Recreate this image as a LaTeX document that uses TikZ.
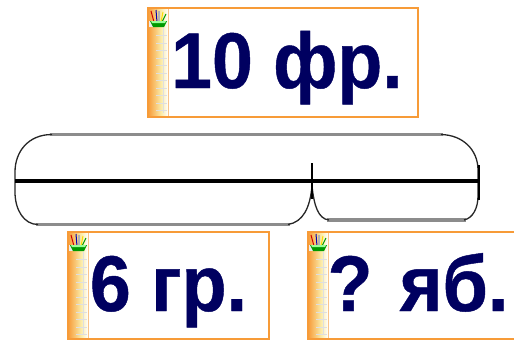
\documentclass[tikz,border=0pt]{standalone}
\usepackage{fontspec}
\newfontfamily\lbfont{Liberation Sans Bold}[FakeBold=0.6]
\definecolor{cardorange}{HTML}{F79B38}
\definecolor{stripyellow}{HTML}{FBEBA8}
\definecolor{navy}{HTML}{000060}
\definecolor{bargray}{HTML}{8C8C8C}
\tikzset{
  cardbox/.style={draw=cardorange, line width=1.6pt, fill=white, inner sep=0pt, rectangle,
    path picture={
      \coordinate (pSW) at (path picture bounding box.south west);
      \coordinate (pNW) at (path picture bounding box.north west);
      \shade[left color=cardorange, right color=stripyellow] (pSW) rectangle ([xshift=13pt]pNW);
      \shade[left color=stripyellow, right color=white] ([xshift=13pt]pSW) rectangle ([xshift=20pt]pNW);
      \draw[cardorange!60, line width=0.8pt] ([xshift=20pt]pSW) -- ([xshift=20pt]pNW);
      \draw[white!75!gray, line width=0.5pt] ([xshift=15pt,yshift=-20pt]pNW) -- ([xshift=15pt,yshift=4pt]pSW);
      \foreach \k in {1,...,14}{
        \draw[white!75!gray, line width=0.4pt] ([xshift=8pt,yshift=-20pt-7.5*\k pt]pNW) -- ([xshift=19pt,yshift=-20pt-7.5*\k pt]pNW);
      }
      \fill[white!85!gray] ([xshift=2pt,yshift=-16pt]pNW) ellipse [x radius=8pt, y radius=3pt];
      \draw[red!80!black, line width=1pt] ([xshift=6pt,yshift=-14pt]pNW) -- ([xshift=3pt,yshift=-3pt]pNW);
      \draw[blue!70!black, line width=1pt] ([xshift=9pt,yshift=-14pt]pNW) -- ([xshift=8pt,yshift=-2pt]pNW);
      \draw[gray!60, line width=1.6pt] ([xshift=11pt,yshift=-14pt]pNW) -- ([xshift=11pt,yshift=-3pt]pNW);
      \draw[yellow!80!orange, line width=1pt] ([xshift=13pt,yshift=-14pt]pNW) -- ([xshift=15pt,yshift=-4pt]pNW);
      \draw[green!60!black, line width=1pt] ([xshift=14pt,yshift=-14pt]pNW) -- ([xshift=18pt,yshift=-6pt]pNW);
      \fill[green!60!black] ([xshift=2pt,yshift=-13pt]pNW) -- ([xshift=19pt,yshift=-13pt]pNW)
        -- ([xshift=16pt,yshift=-19pt]pNW) -- ([xshift=5pt,yshift=-19pt]pNW) -- cycle;
      \fill[green!40!white] ([xshift=3pt,yshift=-13pt]pNW) -- ([xshift=18pt,yshift=-13pt]pNW)
        -- ([xshift=17pt,yshift=-15pt]pNW) -- ([xshift=4pt,yshift=-15pt]pNW) -- cycle;
    }},
  lbl/.style={font=\lbfont\fontsize{79}{83}\selectfont, text=navy, inner sep=0pt, xscale=0.93, anchor=base},
  barouter/.style={draw=black!85, line width=1.3pt},
  barflat/.style={draw=bargray, line width=3.4pt},
  barmain/.style={draw=black, line width=3.6pt},
}
\begin{document}
\begin{tikzpicture}[x=1pt,y=-1pt]
\clip (0,0) rectangle (514,340);
\fill[white] (0,0) rectangle (514,340);

% cards
\node[cardbox, minimum width=270pt, minimum height=109pt] (ctop) at (283,62.5) {};
\node[cardbox, minimum width=201pt, minimum height=107pt] (cleft) at (168.5,285.5) {};
\node[cardbox, minimum width=208pt, minimum height=107pt] (cright) at (412,285.5) {};

\node[lbl] (ttop) at (287,88) {10 фр.};
\node[lbl] (tleft) at (168.5,311) {6 гр.};
\node[lbl] (tright) at (418,311) {? яб.};

% segment bar
\draw[barflat] (50,134.5) -- (443,134.5);
\draw[barflat] (36,224.5) -- (290,224.5);
\draw[barflat] (327,220) -- (466,220);
\draw[barouter] (52,134.5) .. controls (28,134.5) and (15,152) .. (15,172) -- (15,192)
  .. controls (15,210) and (24,224.5) .. (38,224.5);
\draw[barouter] (288,224.5) .. controls (303,222) and (310,208) .. (312,186);
\draw[barouter] (312,186) .. controls (314,205) and (318,219) .. (329,220);
\draw[barouter] (441,134.5) .. controls (463,135) and (478,150) .. (478,170) -- (478,196)
  .. controls (478,208) and (473,218) .. (464,220);
\draw[barmain] (15,181) -- (480,181);
\draw[black, line width=1.6pt] (312,163) -- (312,199);
\draw[black, line width=2.6pt] (479,165) -- (479,200);
\end{tikzpicture}
\end{document}
